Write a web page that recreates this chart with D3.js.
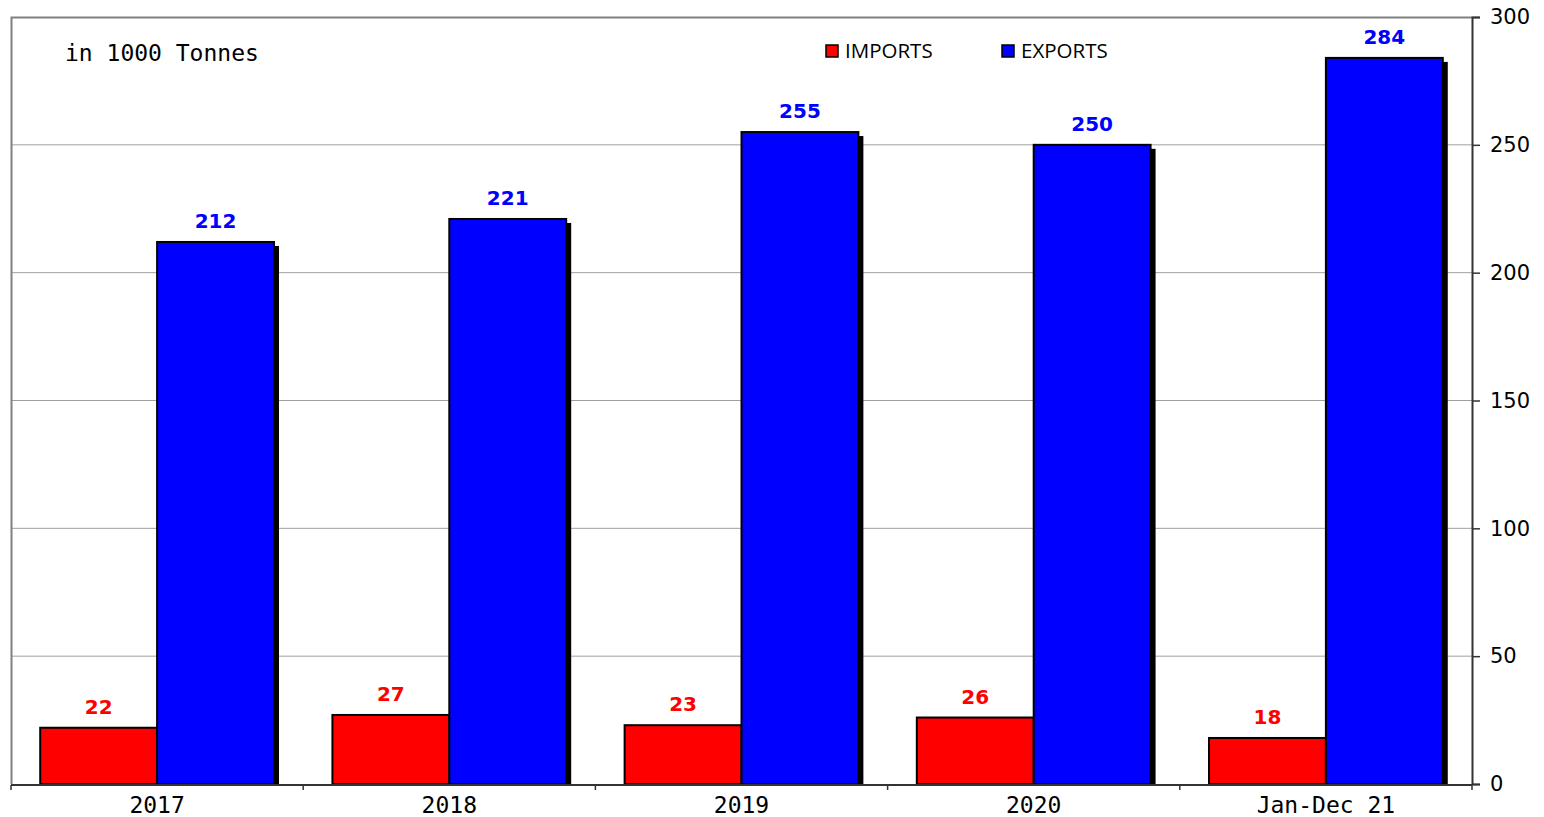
<!DOCTYPE html>
<meta charset="utf-8">
<script src="https://d3js.org/d3.v7.min.js"></script>
<style>
  body { margin: 0; background: #fff; }
</style>
<div id="my_dataviz"></div>
<script>

// data
var categories = ["2017", "2018", "2019", "2020", "Jan-Dec 21"];
var imports = [22, 27, 23, 26, 18];
var exports = [212, 221, 255, 250, 284];
var yTicks = [0, 50, 100, 150, 200, 250, 300];
var seriesNames = ["IMPORTS", "EXPORTS"];
var seriesColors = ["#ff0000", "#0000ff"];

var W = 1544, H = 817;
var margin = {top: 17, right: 72, bottom: 33, left: 11},
    width = W - margin.left - margin.right,
    height = H - margin.top - margin.bottom;

var svg = d3.select("#my_dataviz")
  .append("svg")
    .attr("width", W)
    .attr("height", H)
  .append("g")
    .attr("transform", "translate(" + margin.left + "," + margin.top + ")");

var x = d3.scaleBand()
  .domain(categories)
  .range([0, width])
  .paddingInner(0)
  .paddingOuter(0);

var y = d3.scaleLinear()
  .domain([0, 300])
  .range([height, 0]);

// gridlines
svg.selectAll(".grid")
  .data(yTicks.filter(function(d) { return d > 0 && d < 300; }))
  .enter()
  .append("line")
    .attr("x1", 0)
    .attr("x2", width)
    .attr("y1", function(d) { return y(d); })
    .attr("y2", function(d) { return y(d); })
    .attr("stroke", "#a0a0a0")
    .attr("stroke-width", 1);

// frame (left + top)
svg.append("path")
  .attr("d", "M0.5," + height + "V0.5H" + width)
  .attr("fill", "none")
  .attr("stroke", "#808080")
  .attr("stroke-width", 2);

// bars
var bw = x.bandwidth();
var sideGap = bw * 0.1;
var barW = (bw - 2 * sideGap) / 2;

var groups = categories.map(function(c, i) {
  return {cat: c, vals: [imports[i], exports[i]]};
});

var g = svg.selectAll(".grp")
  .data(groups)
  .enter()
  .append("g")
    .attr("transform", function(d) { return "translate(" + (x(d.cat) + sideGap) + ",0)"; });

[0, 1].forEach(function(s) {
  // shadow
  g.append("rect")
    .attr("x", function(d) { return s * barW + 5; })
    .attr("y", function(d) { return y(d.vals[s]) + 4; })
    .attr("width", barW)
    .attr("height", function(d) { return height - y(d.vals[s]) - 4; })
    .attr("fill", "#000");
  g.append("rect")
    .attr("x", function(d) { return s * barW; })
    .attr("y", function(d) { return y(d.vals[s]); })
    .attr("width", barW)
    .attr("height", function(d) { return height - y(d.vals[s]); })
    .attr("fill", seriesColors[s])
    .attr("stroke", "#000")
    .attr("stroke-width", 2);
  g.append("text")
    .attr("x", function(d) { return s * barW + barW / 2; })
    .attr("y", function(d) { return y(d.vals[s]) - 14; })
    .attr("text-anchor", "middle")
    .attr("font-family", "DejaVu Sans")
    .attr("font-weight", "bold")
    .attr("font-size", "20px")
    .attr("fill", seriesColors[s])
    .text(function(d) { return d.vals[s]; });
});

// right axis
var yAxis = svg.append("g")
  .attr("transform", "translate(" + width + ",0)")
  .call(d3.axisRight(y).tickValues(yTicks).tickSize(8).tickPadding(10));
yAxis.select(".domain").attr("stroke", "#333").attr("stroke-width", 2);
yAxis.selectAll(".tick line").attr("stroke", "#333").attr("stroke-width", 1.5);
yAxis.selectAll("text")
  .attr("font-family", "DejaVu Sans")
  .attr("font-size", "21px")
  .attr("fill", "#000");

// bottom axis
svg.append("line")
  .attr("x1", 0).attr("x2", width)
  .attr("y1", height + 1).attr("y2", height + 1)
  .attr("stroke", "#333").attr("stroke-width", 2);

var bounds = categories.map(function(c) { return x(c); }).concat([width]);
svg.selectAll(".xtick")
  .data(bounds)
  .enter()
  .append("line")
    .attr("x1", function(d) { return d; })
    .attr("x2", function(d) { return d; })
    .attr("y1", height + 1)
    .attr("y2", height + 6)
    .attr("stroke", "#333")
    .attr("stroke-width", 1.5);

svg.selectAll(".xlab")
  .data(categories)
  .enter()
  .append("text")
    .attr("x", function(d) { return x(d) + bw / 2; })
    .attr("y", height + 29)
    .attr("text-anchor", "middle")
    .attr("font-family", "DejaVu Sans Mono")
    .attr("font-size", "23px")
    .attr("fill", "#000")
    .text(function(d) { return d; });

// unit note
svg.append("text")
  .attr("x", 54)
  .attr("y", 44)
  .attr("font-family", "DejaVu Sans Mono")
  .attr("font-size", "23px")
  .attr("fill", "#000")
  .text("in 1000 Tonnes");

// legend
var legendX = [815, 991];
seriesNames.forEach(function(n, i) {
  svg.append("rect")
    .attr("x", legendX[i])
    .attr("y", 28)
    .attr("width", 12)
    .attr("height", 12)
    .attr("fill", seriesColors[i])
    .attr("stroke", "#000")
    .attr("stroke-width", 1.5);
  svg.append("text")
    .attr("x", legendX[i] + 19)
    .attr("y", 41)
    .attr("font-family", "Open Sans")
    .attr("font-size", "20.5px")
    .attr("fill", "#000")
    .text(n);
});

</script>
